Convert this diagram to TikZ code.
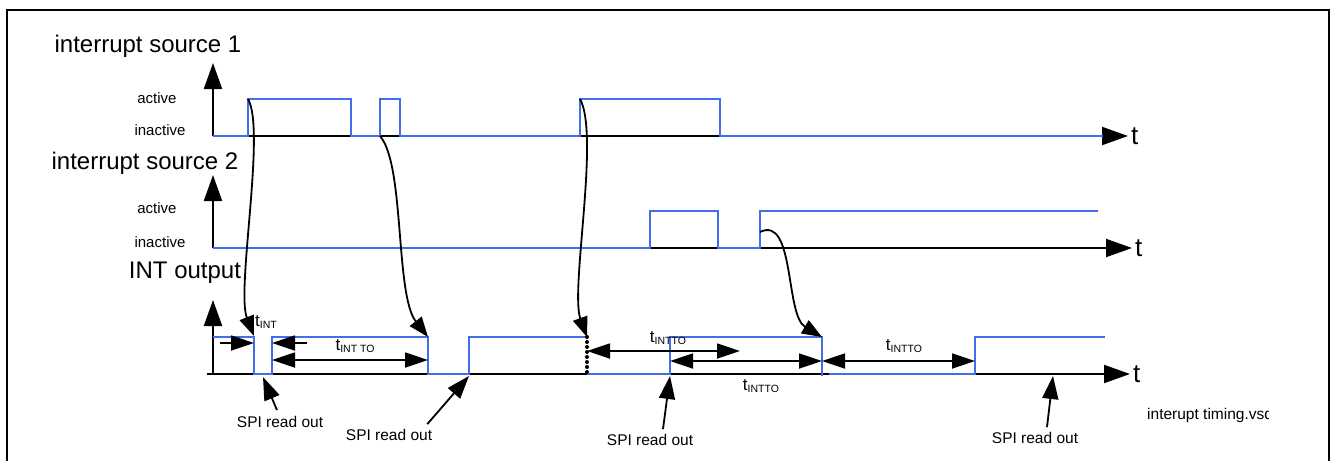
\documentclass[tikz,border=0pt]{standalone}
\usepackage{fontspec}
\setmainfont{Liberation Sans}
\usetikzlibrary{arrows.meta,calc}
\usepackage{xcolor}
\definecolor{signalblue}{RGB}{66,110,235}
\newcommand{\tsym}[1]{{\fontsize{17}{20}\selectfont t}\raisebox{-0.5ex}{\fontsize{10.5}{12}\selectfont #1}}

\begin{document}
\begin{tikzpicture}[x=1pt, y=-1pt,
    axis/.style={line width=2pt, -{Triangle[length=26pt,width=18pt]}},
    sig/.style={signalblue, line width=2.2pt},
    cause/.style={line width=1.8pt, -{Triangle[length=20pt,width=15pt]}},
    dim/.style={line width=1.8pt, {Triangle[length=23pt,width=15pt]}-{Triangle[length=23pt,width=15pt]}},
    dimin/.style={line width=1.8pt, -{Triangle[length=23pt,width=15pt]}},
    spi/.style={line width=1.8pt, -{Triangle[length=23pt,width=16pt]}},
    title/.style={font=\fontsize{24}{28}\selectfont, inner sep=1pt},
    level/.style={font=\fontsize{15}{18}\selectfont, inner sep=1pt},
    tlabel/.style={font=\fontsize{26}{30}\selectfont, inner sep=2pt},
    small/.style={font=\fontsize{15.5}{18}\selectfont, inner sep=2pt}]
    \useasboundingbox (0,0) rectangle (1331,461);

    % Frame
    \draw[line width=1.6pt] (7,461) -- (7,10) -- (1329,10) -- (1329,461);

    % interrupt source 1
    \node[title] (title1) at (148,46) {interrupt source 1};
    \node[level] (act1) at (157,98) {active};
    \node[level] (inact1) at (160,130) {inactive};
    \coordinate (o1) at (213,136);
    \draw[axis] (o1) -- (213,63);
    \draw[axis] (o1) -- (1128,136) node[tlabel, anchor=west] (t1) {t};
    \draw[sig] (o1) -- (248,136) -- (248,99) -- (351,99) -- (351,136) -- (380,136) -- (380,99)
        -- (400,99) -- (400,136) -- (580,136) -- (580,99) -- (720,99) -- (720,136) -- (1103,136);
    \coordinate (s1a) at (248,99);
    \coordinate (s1b) at (380,136);
    \coordinate (s1c) at (580,99);

    % interrupt source 2
    \node[title] (title2) at (145,163) {interrupt source 2};
    \node[level] (act2) at (157,208) {active};
    \node[level] (inact2) at (160,242) {inactive};
    \coordinate (o2) at (213,248);
    \draw[axis] (o2) -- (213,175);
    \draw[axis] (o2) -- (1132,248) node[tlabel, anchor=west] (t2) {t};
    \draw[sig] (o2) -- (650,248) -- (650,211) -- (718,211) -- (718,248) -- (760,248) -- (760,211) -- (1098,211);
    \coordinate (s2a) at (760,232);

    % INT output
    \node[title] (title3) at (185,273) {INT output};
    \coordinate (o3) at (213,374);
    \draw[axis] (o3) -- (213,300);
    \draw[axis] (207,374) -- (1130,374) node[tlabel, anchor=west] (t3) {t};
    \draw[sig] (213,337) -- (254,337) -- (254,374) -- (272,374) -- (272,337) -- (428,337) -- (428,374)
        -- (469,374) -- (469,337) -- (587,337);
    \draw[sig] (587,374) -- (670,374) -- (670,337) -- (822,337) -- (822,376);
    \draw[sig] (829,374) -- (975,374) -- (975,337) -- (1105,337);
    \draw[line width=4pt, line cap=round, dash pattern=on 0pt off 5pt] (587,337) -- (587,374);
    \coordinate (i1) at (254,336);
    \coordinate (i2) at (428,337);
    \coordinate (i3) at (587,337);
    \coordinate (i4) at (822,337);

    % cause arrows
    \draw[cause] (s1a) .. controls (266,130) and (236,290) .. (i1);
    \draw[cause] (s1b) .. controls (405,165) and (395,295) .. (i2);
    \draw[cause] (s1c) .. controls (600,135) and (570,290) .. (i3);
    \draw[cause] (s2a) .. controls (795,215) and (785,315) .. (i4);

    % timing
    \coordinate (a1) at (220,343);  \coordinate (a2) at (254,343);
    \coordinate (a3) at (307,343);  \coordinate (a4) at (272,343);
    \draw[dimin] (a1) -- (a2);
    \draw[dimin] (a3) -- (a4);
    \node (lint) at (266,322) {\tsym{INT}};
    \coordinate (b1) at (272,360);  \coordinate (b2) at (428,360);
    \draw[dim] (b1) -- (b2);
    \node (lto1) at (355,346) {\tsym{INT TO}};
    \coordinate (c1) at (587,351);  \coordinate (c2) at (740,351);
    \draw[dim] (c1) -- (c2);
    \node (lto2) at (668,338) {\tsym{INTTO}};
    \coordinate (d1) at (670,361);  \coordinate (d2) at (822,361);
    \draw[dim] (d1) -- (d2);
    \node (lto3) at (761,386) {\tsym{INTTO}};
    \coordinate (e1) at (822,361);  \coordinate (e2) at (975,361);
    \draw[dim] (e1) -- (e2);
    \node (lto4) at (904,346) {\tsym{INTTO}};

    % SPI read out
    \node[small] (spi1) at (280,422) {SPI read out};
    \node[small] (spi2) at (389,435) {SPI read out};
    \node[small] (spi3) at (650,440) {SPI read out};
    \node[small] (spi4) at (1035,438) {SPI read out};
    \coordinate (r1) at (263,377);
    \coordinate (r2) at (469,376);
    \coordinate (r3) at (670,376);
    \coordinate (r4) at (1053,376);
    \draw[spi] ($(spi1.north)+(-3,-4)$) -- (r1);
    \draw[spi] ($(spi2.north east)+(-7,-3)$) -- (r2);
    \draw[spi] ($(spi3.north)+(13,-3)$) -- (r3);
    \draw[spi] ($(spi4.north)+(12,-3)$) -- (r4);

    % file name
    \begin{scope}
        \clip (1140,400) rectangle (1268,430);
        \node[small, anchor=west] (fname) at (1145,415) {interupt timing.vsd};
    \end{scope}
\end{tikzpicture}
\end{document}
